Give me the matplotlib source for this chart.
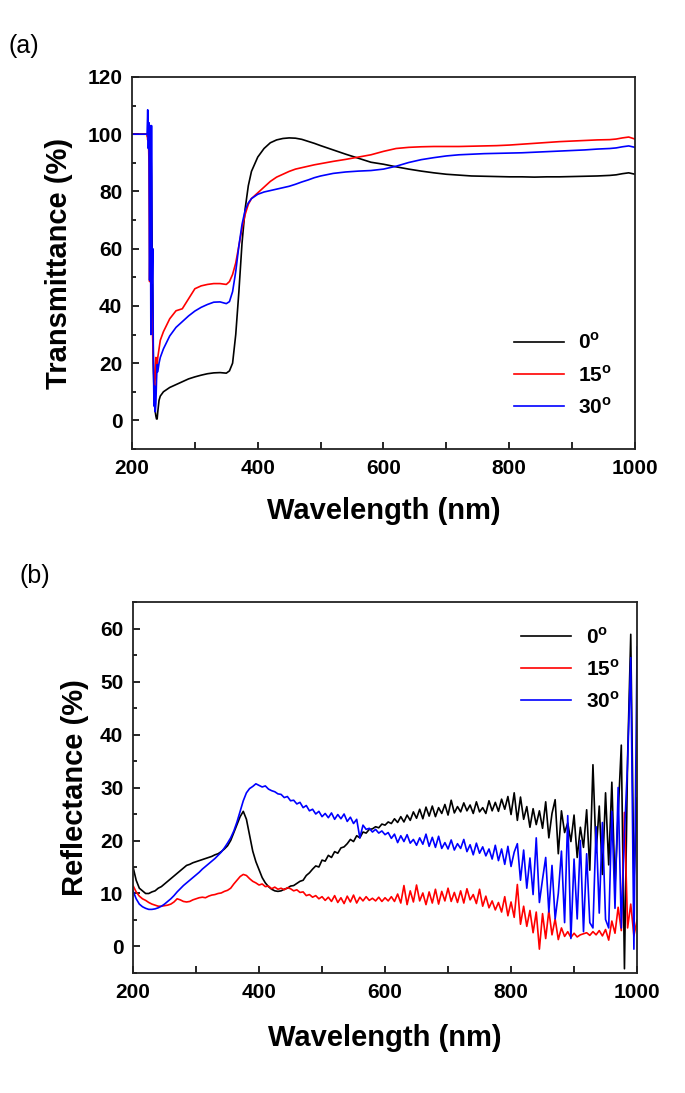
import numpy as np
import matplotlib
matplotlib.use("Agg")
import matplotlib.pyplot as plt
from matplotlib.ticker import MultipleLocator

plt.rcParams['font.family'] = ['Liberation Sans', 'DejaVu Sans']
plt.rcParams['mathtext.fontset'] = 'custom'
plt.rcParams['mathtext.bf'] = 'Liberation Sans:bold'
plt.rcParams['mathtext.rm'] = 'Liberation Sans:bold'

# (a) Transmittance
wl_t = [200, 224, 225, 226, 227, 228, 229, 230, 231, 232, 233, 234, 235, 236, 237, 238, 239,
        240, 241, 243, 245, 250, 260, 270, 280, 290, 300, 310, 320, 330, 340, 350, 355, 360,
        365, 370, 375, 380, 385, 390, 400, 410, 420, 430, 440, 450, 460, 470, 480, 490, 500,
        520, 540, 560, 580, 600, 620, 640, 660, 680, 700, 720, 740, 760, 780, 800, 820, 840,
        860, 880, 900, 920, 940, 960, 970, 980, 990, 1000]

t_0 = [100, 100, 99, 101, 97, 100, 95, 98, 85, 60, 40, 20, 10, 5, 3, 1.5, 0.5,
       0.5, 3, 7, 8.5, 10, 11.5, 12.5, 13.5, 14.5, 15.2, 15.8, 16.3, 16.6, 16.7, 16.5, 17.3, 20,
       30, 45, 62, 74, 82, 87, 92, 95, 97, 98, 98.5, 98.7, 98.6, 98.2, 97.5, 96.8, 96,
       94.5, 93, 91.6, 90.2, 89.5, 88.6, 87.8, 87.1, 86.5, 86, 85.7, 85.4, 85.3, 85.2, 85.1, 85.1, 85,
       85.1, 85.1, 85.2, 85.3, 85.4, 85.6, 85.8, 86.2, 86.5, 86]

t_15 = [100, 100, 98, 100, 90, 48.5, 70, 50, 40, 35, 28, 20, 14, 12, 15, 22, 17,
        19, 22, 25, 28, 31, 35.5, 38.3, 39, 42.5, 46, 47, 47.5, 47.8, 47.8, 47.5, 48.5, 51,
        55, 61, 67, 72, 75.5, 77.5, 79.5, 81.5, 83.5, 85, 86, 87, 87.8, 88.3, 88.8, 89.3, 89.7,
        90.5, 91.2, 92, 92.8, 94, 95, 95.4, 95.6, 95.7, 95.7, 95.7, 95.8, 95.9, 96, 96.2, 96.5, 96.8,
        97.1, 97.4, 97.6, 97.8, 98, 98.1, 98.3, 98.7, 99, 98.3]

t_30 = [100, 100, 108.5, 95, 104, 49, 103, 30, 103, 48, 60, 20, 5, 12, 3, 6, 14,
        19.5, 17, 20, 22, 25, 29.5, 32.5, 34.5, 36.5, 38.2, 39.5, 40.5, 41.3, 41.4, 40.8, 41.5, 45,
        52, 61, 68.5, 73.5, 76, 77.5, 79, 79.8, 80.3, 80.8, 81.3, 81.8, 82.5, 83.3, 84, 84.8, 85.4,
        86.3, 86.8, 87.1, 87.3, 87.8, 88.8, 90.1, 91.1, 91.8, 92.4, 92.8, 93, 93.2, 93.3, 93.4, 93.5, 93.7,
        93.9, 94.1, 94.3, 94.5, 94.8, 95, 95.2, 95.6, 95.9, 95.4]

# (b) Reflectance, 5 nm steps
wl_r = list(range(200, 1001, 5))

r_0 = [15, 12.5, 11, 10.5, 10, 10, 10.3, 10.5, 11, 11.3, 11.8, 12.3, 12.8, 13.3, 13.8, 14.3,
       14.8, 15.3, 15.5, 15.8, 16, 16.2, 16.4, 16.6, 16.8, 17, 17.3, 17.5, 17.9, 18.4, 19, 20,
       21.5, 23, 24.5, 25.5, 24, 21, 18, 16, 14.5, 13, 12, 11.3, 10.8, 10.5, 10.4, 10.5, 10.8,
       11, 11.4, 11.5, 11.9, 12.3, 12.5, 13.4, 13.9, 14.6, 15.2, 15, 16.3, 16.1, 17.2, 16.8, 17.9,
       17.6, 18.6, 18.8, 19.4, 20.2, 19.8, 20.9, 20.5, 21.6, 21.4, 22.1, 22.2, 22.6, 22.4, 23.1,
       22.9, 23.5, 23.2, 24.1, 23.4, 24.5, 23.5, 24.8, 23.8, 25.4, 24.2, 25.9, 24.1, 26.3, 24.6,
       26.5, 24.5, 26.2, 25.1, 26.8, 24.8, 27.6, 25.2, 26.4, 25.4, 27.1, 25.6, 26.7, 25.1, 27.3,
       25.4, 26.2, 25.1, 27.5, 25.6, 27.2, 25.5, 27.8, 25.9, 28.3, 24.9, 29, 23.8, 28.2, 24, 26.4,
       22.5, 26, 23, 25.6, 22.3, 27.3, 20.5, 25.1, 27.7, 17.5, 25.6, 21.5, 23.3, 19.8, 24.8, 16.8,
       22.5, 18.7, 25.8, 14.4, 34.3, 17.7, 26.5, 13.6, 29, 15.4, 31, 11.5, 25, 38, -4.2, 35.5,
       58.9, 12, 28]

r_15 = [11.5, 10.3, 9.5, 9, 8.7, 8.3, 8, 7.8, 7.6, 7.6, 7.7, 7.8, 8, 8.4, 9, 8.8, 8.5, 8.4,
        8.5, 8.8, 9, 9.2, 9.3, 9.2, 9.5, 9.7, 9.8, 10, 10.1, 10.4, 10.6, 11, 11.8, 12.5, 13.2,
        13.6, 13.4, 12.8, 12.3, 12, 11.6, 11.8, 11.3, 11.4, 10.9, 11.2, 10.8, 11, 10.7, 11.1,
        10.9, 10.5, 10.7, 10.2, 10.3, 9.6, 9.8, 9.3, 9.6, 9, 9.4, 8.7, 9.3, 8.5, 9.6, 8.3, 9.2,
        8.1, 9.5, 8.4, 9.7, 8.2, 9.3, 8.6, 9.4, 8.7, 9.1, 8.6, 9.3, 8.5, 9.2, 8.6, 9.4, 8.5, 9.9,
        8.2, 11.5, 7.9, 10.5, 8.4, 11.6, 8.6, 10.1, 7.9, 10.3, 8.2, 10.8, 8, 10.4, 8.6, 11, 8.5,
        10.2, 8.3, 10.5, 8.2, 10.9, 8.8, 9.8, 8.1, 10.8, 7.6, 9.5, 7.3, 8.6, 6.9, 8.3, 6.5, 9.4,
        5.8, 8.4, 5.5, 11.7, 4.2, 7.6, 3.8, 6.8, 2.6, 6.5, -0.5, 6.2, 1.5, 6.8, 2.2, 5.2, 1.3,
        3.5, 1.9, 2.8, 1.7, 2.5, 1.8, 2.2, 2.4, 2.6, 2.1, 2.8, 2.2, 3, 2, 3.2, 1.2, 4.8, 2.5,
        7.4, 3, 25.3, 3.5, 8, 2, 5]

r_30 = [10.5, 9, 8, 7.5, 7.2, 7, 7, 7.1, 7.3, 7.6, 8, 8.5, 9, 9.6, 10.3, 10.9, 11.5, 12,
        12.5, 13, 13.5, 14, 14.6, 15.1, 15.6, 16.1, 16.6, 17.2, 17.8, 18.6, 19.5, 20.5, 21.8,
        23.5, 25.5, 27.5, 29, 29.8, 30.2, 30.7, 30.4, 30.1, 30.3, 29.7, 29.4, 29.2, 28.8, 28.7,
        28.1, 28.3, 27.5, 27.6, 26.9, 27.2, 26.2, 26.6, 25.6, 25.9, 25, 25.5, 24.5, 25.1, 24.3,
        25.2, 24, 24.9, 24.1, 25, 23.6, 24.4, 23.2, 24, 20.5, 22.9, 22.1, 22.3, 21.6, 22.1, 21.4,
        21.8, 21.1, 21.5, 20.4, 21.2, 19.6, 20.9, 19.8, 21.1, 19.5, 20.2, 19.1, 20.5, 19.3, 21.2,
        18.9, 20.6, 18.7, 20.8, 18.5, 19.6, 18.4, 20.1, 18.2, 19.4, 18.5, 20.2, 17.9, 19.2, 17.3,
        19.5, 17.6, 18.8, 17.1, 18.4, 16.5, 19.1, 16.2, 18.4, 15.5, 18.9, 15.1, 17.8, 19.4, 12.5,
        18.2, 11, 16.7, 9.8, 20.5, 8.3, 12.7, 16.8, 6.5, 15.3, 5.2, 10, 18, 4.5, 24.7, 1.5, 16.5,
        5.2, 20, 2.8, 17.5, 4.5, 3.5, 22.6, 6.3, 23.4, 5.1, 3.5, 25.5, 7.2, 30, 3.5, 21.3, 34.6,
        54.5, -0.5, 56.5]

angles = ['0', '15', '30']
colors = ['#000000', '#ff0000', '#0000ff']

fig = plt.figure(figsize=(6.85, 10.93), dpi=100)
ax1 = fig.add_axes([0.1927, 0.5892, 0.7343, 0.3404])
ax2 = fig.add_axes([0.1942, 0.1098, 0.7358, 0.3394])

for y, a, c in zip([t_0, t_15, t_30], angles, colors):
    ax1.plot(wl_t, y, color=c, lw=1.2, label=a + r'$^\mathbf{o}$')
for y, a, c in zip([r_0, r_15, r_30], angles, colors):
    ax2.plot(wl_r, y, color=c, lw=1.2, label=a + r'$^\mathbf{o}$')

ax1.set_xlim(200, 1000)
ax1.set_ylim(-10, 120)
ax1.yaxis.set_major_locator(MultipleLocator(20))
ax1.yaxis.set_minor_locator(MultipleLocator(10))
ax1.set_ylabel('Transmittance (%)', fontsize=21, fontweight='bold', labelpad=10)
ax1.set_xlabel('Wavelength (nm)', fontsize=21, fontweight='bold', labelpad=14)

ax2.set_xlim(200, 1000)
ax2.set_ylim(-5, 65)
ax2.yaxis.set_major_locator(MultipleLocator(10))
ax2.yaxis.set_minor_locator(MultipleLocator(5))
ax2.set_ylabel('Reflectance (%)', fontsize=21, fontweight='bold', labelpad=8)
ax2.set_xlabel('Wavelength (nm)', fontsize=21, fontweight='bold', labelpad=16)

for ax in (ax1, ax2):
    ax.xaxis.set_major_locator(MultipleLocator(200))
    ax.xaxis.set_minor_locator(MultipleLocator(100))
    ax.tick_params(which='both', direction='in', width=1.2, labelsize=15, pad=7)
    ax.tick_params(which='major', length=5)
    ax.tick_params(axis='y', which='minor', length=3)
    ax.tick_params(axis='x', which='minor', length=5)
    ax.tick_params(top=False, right=False)
    for lab in ax.get_xticklabels() + ax.get_yticklabels():
        lab.set_fontweight('bold')
    for sp in ax.spines.values():
        sp.set_linewidth(1.3)
        sp.set_color('#222222')

leg_kw = dict(frameon=False, handlelength=2.4, handletextpad=0.7,
              labelspacing=0.55, borderpad=0, borderaxespad=0, loc='center left',
              prop={'weight': 'bold', 'size': 15})
ax1.legend(bbox_to_anchor=(0.759, 0.199), **leg_kw)
ax2.legend(bbox_to_anchor=(0.77, 0.819), **leg_kw)

fig.text(0.035, 0.958, '(a)', fontsize=18, ha='center', va='center')
fig.text(0.051, 0.473, '(b)', fontsize=18, ha='center', va='center')

fig.savefig('out.png', dpi=100)
